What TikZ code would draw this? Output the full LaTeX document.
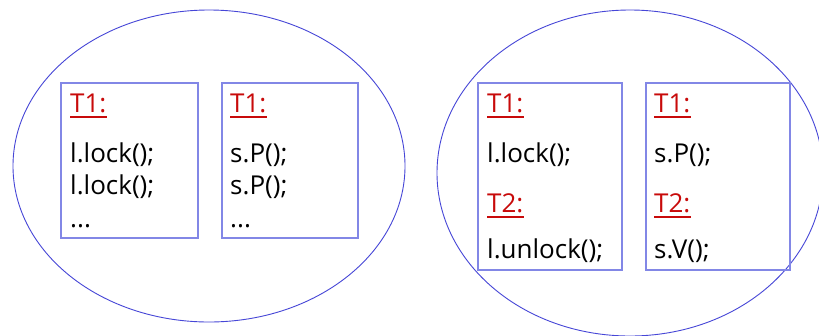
\documentclass[tikz,border=0pt]{standalone}
\usepackage{fontspec}
\setmainfont{Open Sans}
\usetikzlibrary{shapes.geometric}
\definecolor{ellblue}{RGB}{70,70,215}
\definecolor{boxblue}{RGB}{130,135,230}
\definecolor{hdred}{RGB}{200,10,10}
\tikzset{
  oval/.style={ellipse, draw=ellblue, line width=0.9bp, inner sep=0},
  codebox/.style={draw=boxblue, line width=1.7bp, anchor=north west, inner sep=0},
  code/.style={anchor=base west, inner sep=0, font=\fontsize{26bp}{30bp}\selectfont},
  hd/.style={code, text=hdred},
  uline/.style={draw=hdred, line width=2.4bp}
}
\newcommand{\hdu}[1]{\draw[uline] ([yshift=-5bp]#1.base west) -- ([yshift=-5bp]#1.base east);}
\begin{document}
\begin{tikzpicture}[x=1bp,y=-1bp]
\clip (0,0) rectangle (819,335);
\fill[white] (0,0) rectangle (819,335);
% ellipses
\node[oval, minimum width=392bp, minimum height=312bp] (e1) at (209,166) {};
\node[oval, minimum width=386bp, minimum height=326bp] (e2) at (630,173) {};
% boxes
\node[codebox, minimum width=137bp, minimum height=155bp] (b1) at (60,82) {};
\node[codebox, minimum width=136bp, minimum height=155bp] (b2) at (221,82) {};
\node[codebox, minimum width=144bp, minimum height=187bp] (b3) at (477,82) {};
\node[codebox, minimum width=144bp, minimum height=187bp] (b4) at (645,82) {};
% box 1
\node[hd] (h1) at (70,112) {T1:}; \hdu{h1}
\node[code] (c11) at (70,162) {l.lock();};
\node[code] (c12) at (70,194) {l.lock();};
\node[code] (c13) at (70,227) {...};
% box 2
\node[hd] (h2) at (230,112) {T1:}; \hdu{h2}
\node[code] (c21) at (230,162) {s.P();};
\node[code] (c22) at (230,194) {s.P();};
\node[code] (c23) at (230,227) {...};
% box 3
\node[hd] (h3) at (487,112) {T1:}; \hdu{h3}
\node[code] (c31) at (487,162) {l.lock();};
\node[hd] (h3b) at (487,212) {T2:}; \hdu{h3b}
\node[code] (c32) at (487,258) {l.unlock();};
% box 4
\node[hd] (h4) at (654,112) {T1:}; \hdu{h4}
\node[code] (c41) at (654,162) {s.P();};
\node[hd] (h4b) at (654,212) {T2:}; \hdu{h4b}
\node[code] (c42) at (654,258) {s.V();};
\end{tikzpicture}
\end{document}
